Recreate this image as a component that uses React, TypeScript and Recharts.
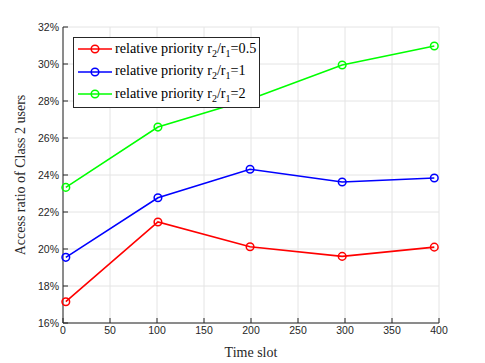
import React from 'react';
import { LineChart, Line, XAxis, YAxis, CartesianGrid, Legend, Label } from 'recharts';

const timeSlots = [3, 101, 199, 297, 395];
const ratioHalf = [17.15, 21.46, 20.12, 19.6, 20.1];
const ratioOne = [19.55, 22.77, 24.31, 23.62, 23.84];
const ratioTwo = [23.33, 26.59, 28.1, 29.95, 30.97];
const xTicks = [0, 50, 100, 150, 200, 250, 300, 350, 400];
const yTicks = [16, 18, 20, 22, 24, 26, 28, 30, 32];

const seriesList = [
  { key: 'half', color: '#ff0000', ratio: '0.5', values: ratioHalf },
  { key: 'one', color: '#0000ff', ratio: '1', values: ratioOne },
  { key: 'two', color: '#00ff00', ratio: '2', values: ratioTwo },
];

const data = timeSlots.map((t, i) => ({
  t,
  half: ratioHalf[i],
  one: ratioOne[i],
  two: ratioTwo[i],
}));

const axisColor = '#262626';
const tickFont = { fill: axisColor, fontSize: 10.5, fontFamily: 'Liberation Sans, Arial, sans-serif' };
const serif = 'Liberation Serif, Times New Roman, serif';

const LegendBox = () => (
  <div
    style={{
      position: 'absolute',
      left: 73,
      top: 37,
      width: 187,
      height: 71,
      border: `1px solid ${axisColor}`,
      background: '#fff',
      fontFamily: serif,
      fontSize: 14.2,
      color: '#000',
      boxSizing: 'border-box',
    }}
  >
    {seriesList.map((s, i) => (
      <div
        key={s.key}
        style={{ position: 'absolute', left: 3, top: 0 + i * 22.7, height: 22, display: 'flex', alignItems: 'center', whiteSpace: 'nowrap' }}
      >
        <svg width={36} height={12} style={{ marginRight: 2 }}>
          <line x1={1} y1={6} x2={35} y2={6} stroke={s.color} strokeWidth={1.5} />
          <circle cx={18} cy={6} r={3.8} stroke={s.color} strokeWidth={1.5} fill="none" />
        </svg>
        <span>
          relative priority r<sub style={{ fontSize: 10, verticalAlign: -4 }}>2</sub>/r
          <sub style={{ fontSize: 10, verticalAlign: -4 }}>1</sub>={s.ratio}
        </span>
      </div>
    ))}
  </div>
);

export default function App() {
  return (
    <div style={{ position: 'absolute', left: 0, top: 0, width: 485, height: 363, background: '#fff' }}>
      <LineChart width={485} height={363} data={data} margin={{ top: 27, right: 46, bottom: 0, left: 0 }}>
        <CartesianGrid stroke="#e4e4e4" strokeWidth={1} />
        <XAxis
          dataKey="t"
          type="number"
          domain={[0, 400]}
          ticks={xTicks}
          height={40}
          stroke={axisColor}
          tickSize={-5}
          tickMargin={9}
          tick={tickFont}
          interval={0}
        >
          <Label
            content={() => (
              <text x={251} y={357} textAnchor="middle" fontFamily={serif} fontSize={14} fill={axisColor}>
                Time slot
              </text>
            )}
          />
        </XAxis>
        <XAxis
          xAxisId="top"
          orientation="top"
          dataKey="t"
          type="number"
          domain={[0, 400]}
          ticks={xTicks}
          height={0}
          stroke={axisColor}
          tickSize={-5}
          tick={false}
        />
        <YAxis
          type="number"
          domain={[16, 32]}
          ticks={yTicks}
          width={63}
          stroke={axisColor}
          tickSize={-5}
          tickMargin={9}
          tick={tickFont}
          tickFormatter={(v: number) => `${v}%`}
          interval={0}
        >
          <Label
            content={() => (
              <text
                x={25}
                y={175}
                transform="rotate(-90 25 175)"
                textAnchor="middle"
                fontFamily={serif}
                fontSize={14}
                fill={axisColor}
              >
                Access ratio of Class 2 users
              </text>
            )}
          />
        </YAxis>
        <YAxis
          yAxisId="right"
          orientation="right"
          type="number"
          domain={[16, 32]}
          ticks={yTicks}
          width={0}
          stroke={axisColor}
          tickSize={-5}
          tick={false}
        />
        {seriesList.map((s) => (
          <Line
            key={s.key}
            dataKey={s.key}
            stroke={s.color}
            strokeWidth={1.6}
            dot={{ r: 3.8, stroke: s.color, strokeWidth: 1.5, fill: 'none' }}
            activeDot={false}
            isAnimationActive={false}
          />
        ))}
        <Legend content={() => <LegendBox />} wrapperStyle={{ position: 'absolute', left: 0, top: 0, width: 0, height: 0 }} />
      </LineChart>
    </div>
  );
}
